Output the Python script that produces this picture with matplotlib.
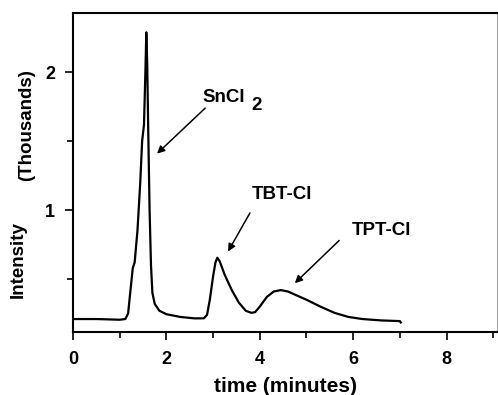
import matplotlib.pyplot as plt
import numpy as np

plt.rcParams['font.family'] = ['Liberation Sans', 'DejaVu Sans']
plt.rcParams['font.weight'] = 'bold'

# chromatogram trace (time in minutes, intensity in thousands)
time_min = [0.0, 0.5, 1.0, 1.12, 1.18, 1.24, 1.28, 1.32, 1.38, 1.44, 1.48, 1.52,
            1.55, 1.57, 1.59, 1.61, 1.64, 1.67, 1.70, 1.75, 1.85, 2.0, 2.3, 2.6,
            2.8, 2.87, 2.93, 3.0, 3.05, 3.09, 3.14, 3.25, 3.4, 3.55, 3.7, 3.82,
            3.9, 4.0, 4.15, 4.3, 4.45, 4.6, 4.8, 5.0, 5.3, 5.6, 5.9, 6.2, 6.6,
            7.0, 7.02]
intensity = [0.21, 0.21, 0.205, 0.21, 0.25, 0.45, 0.58, 0.62, 0.85, 1.2, 1.5, 1.62,
             2.0, 2.29, 2.05, 1.6, 1.0, 0.6, 0.40, 0.32, 0.27, 0.245, 0.225, 0.215,
             0.215, 0.24, 0.35, 0.52, 0.62, 0.655, 0.63, 0.53, 0.42, 0.33, 0.27, 0.255,
             0.26, 0.30, 0.37, 0.41, 0.42, 0.41, 0.38, 0.35, 0.30, 0.255, 0.225, 0.21, 0.20,
             0.195, 0.185]

peak_names = ['SnCl', 'TBT-Cl', 'TPT-Cl']
label_pos = [(2.78, 1.82), (3.83, 1.11), (5.97, 0.855)]
arrow_tails = [(2.83, 1.74), (3.79, 0.98), (5.70, 0.78)]
peak_tips = [(1.80, 1.41), (3.32, 0.70), (4.75, 0.47)]

fig = plt.figure(figsize=(4.98, 3.95), dpi=100)
ax = fig.add_axes([0.1466, 0.1595, 0.8514, 0.8075])

ax.plot(time_min, intensity, color='black', linewidth=1.6)

for name, pos, tail, tip in zip(peak_names, label_pos, arrow_tails, peak_tips):
    ax.text(pos[0], pos[1], name, fontsize=13.5, fontweight='bold', ha='left', va='center')
    ax.annotate('', xy=tip, xytext=tail,
                arrowprops=dict(arrowstyle='-|>', color='black', lw=1.1,
                                mutation_scale=11, shrinkA=0, shrinkB=0))
# subscript of SnCl2, set lower like in the original
ax.text(3.83, 1.76, '2', fontsize=13.5, fontweight='bold', ha='left', va='center')

ax.set_xlim(0, 9.08)
ax.set_ylim(0.116, 2.43)
ax.set_xticks([0, 2, 4, 6, 8])
ax.set_xticks([1, 3, 5, 7, 9], minor=True)
ax.set_yticks([1, 2])
ax.set_yticks([0.5, 1.5], minor=True)
ax.tick_params(which='both', direction='out', width=1.2, labelsize=13)
ax.tick_params(axis='x', which='major', length=6, pad=8)
ax.tick_params(axis='y', which='major', length=6, pad=7)
ax.tick_params(which='minor', length=4)
for lab in ax.get_xticklabels() + ax.get_yticklabels():
    lab.set_fontweight('bold')

for side in ['left', 'bottom', 'top']:
    ax.spines[side].set_linewidth(1.5)
ax.spines['right'].set_linewidth(0.6)
ax.spines['right'].set_color('#888888')

ax.set_xlabel('time (minutes)', fontsize=15, fontweight='bold', labelpad=6)
fig.text(0.036, 0.344, 'Intensity', rotation=90, fontsize=13.5, fontweight='bold',
         ha='center', va='center')
fig.text(0.054, 0.684, '(Thousands)', rotation=90, fontsize=13.5, fontweight='bold',
         ha='center', va='center')

fig.savefig('out.png', dpi=100)
